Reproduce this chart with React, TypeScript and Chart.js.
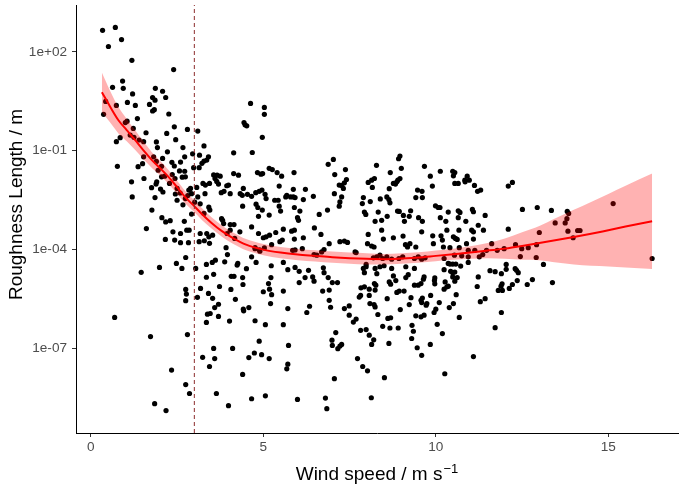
import React, { useEffect, useRef } from "react";
import { Chart, registerables } from "chart.js";

Chart.register(...registerables);

// ---------------- data ----------------
// Observations: wind speed (m/s) and log10 of roughness length (m)
const windSpeed: number[] = [
  0.34,0.51,0.71,0.89,1.19,2.40,0.63,0.92,0.94,0.43,
  0.74,1.06,1.21,1.29,1.87,2.08,2.17,1.70,1.79,1.86,
  1.84,1.79,2.26,0.37,1.05,1.00,1.35,1.23,2.42,2.80,
  3.10,1.14,1.25,1.40,1.60,1.53,0.85,0.74,1.90,1.93,
  2.20,2.46,2.67,3.28,0.77,1.37,1.53,1.50,1.82,1.90,
  2.08,2.22,2.35,2.60,2.72,2.95,2.98,2.42,1.18,1.20,
  1.54,1.76,1.86,2.05,2.05,2.14,1.95,1.91,1.89,2.02,
  2.09,2.28,2.36,2.44,2.50,2.45,2.59,2.65,2.74,2.72,
  2.57,2.84,2.89,2.92,3.07,3.25,3.10,3.14,3.15,3.22,
  3.28,3.36,3.41,3.32,3.31,3.44,3.56,3.60,3.66,3.75,
  3.65,3.70,3.78,3.86,3.94,3.99,4.04,4.14,4.14,4.28,
  4.33,4.39,4.54,4.44,4.47,4.52,4.63,1.77,1.61,2.06,
  2.16,2.38,2.43,2.50,2.67,2.74,2.81,2.60,2.78,2.30,
  2.17,2.71,2.85,2.92,3.01,3.28,3.17,3.42,3.45,3.82,
  3.79,3.85,4.04,4.15,4.04,3.95,4.17,4.32,3.17,3.36,
  3.53,3.42,3.29,3.14,2.83,2.60,3.92,
  1.46,1.99,2.48,2.64,2.75,2.75,2.77,2.75,0.69,1.73,
  2.80,2.34,2.75,2.86,1.85,2.18,3.99,3.64,3.44,3.24,
  3.59,3.56,4.11,4.40,4.58,3.09,3.18,3.04,3.35,3.52,
  3.61,3.88,3.96,3.56,3.35,3.73,3.41,3.53,3.70,3.59,
  3.38,3.46,3.35,3.70,4.02,4.06,4.07,4.15,4.19,4.24,
  4.26,4.40,4.41,4.42,4.43,4.51,4.58,3.44,
  5.03,5.03,4.97,4.68,4.83,4.93,4.98,5.17,5.26,5.40,
  5.53,4.42,4.66,4.78,4.88,4.96,5.05,5.08,4.40,4.79,
  4.84,4.97,4.86,5.17,5.33,5.43,5.46,5.46,5.50,5.65,
  5.68,5.79,5.87,5.89,5.87,5.92,5.90,6.06,5.99,6.02,
  6.16,6.22,6.45,6.62,6.86,6.88,7.03,7.07,7.38,7.20,
  7.27,7.35,7.41,7.32,7.06,7.27,7.22,7.20,7.90,7.87,
  7.93,7.97,8.10,8.04,8.14,8.22,8.16,8.28,8.39,8.33,
  8.24,8.43,8.58,8.64,8.67,8.59,8.68,8.65,8.77,8.83,
  8.87,8.90,8.96,8.92,8.96,9.00,8.89,8.94,9.06,9.09,
  9.23,9.27,9.42,9.47,9.60,9.61,9.50,9.61,9.67,9.84,
  9.90,10.13,9.99,10.07,10.13,10.29,10.36,
  4.66,4.86,5.00,5.08,5.18,5.36,5.48,5.55,5.58,5.82,
  5.90,5.90,6.16,6.48,6.67,6.91,7.22,7.35,7.44,8.04,
  8.02,8.14,8.21,8.48,8.43,8.77,9.05,9.12,9.18,9.25,
  9.42,9.59,9.91,9.93,10.15,10.19,10.32,4.76,4.89,5.03,
  5.24,4.66,4.79,5.23,5.22,5.15,5.18,5.24,5.00,5.21,
  5.58,5.71,5.92,6.04,6.13,5.85,5.92,6.31,6.21,6.43,
  6.47,6.04,5.58,5.71,4.76,5.06,5.58,4.88,4.74,4.95,
  5.17,5.73,5.71,5.68,4.66,5.06,5.99,6.34,6.26,6.72,
  6.74,6.76,6.88,7.00,7.15,6.91,6.91,6.95,7.10,6.99,
  7.00,7.16,7.22,7.27,7.35,7.49,7.49,7.61,7.69,6.80,
  6.84,7.06,7.73,7.88,8.02,8.13,7.90,7.93,7.98,7.83,
  7.93,8.07,7.78,7.82,8.07,8.22,8.26,8.24,8.09,8.21,
  8.24,8.32,8.20,8.14,7.82,7.98,8.07,8.24,8.29,8.38,
  8.50,8.59,8.46,8.61,8.69,8.67,8.64,8.51,8.72,8.77,
  8.84,8.69,8.65,8.87,8.94,9.08,8.91,8.97,9.13,9.20,
  9.28,9.23,9.38,9.38,9.31,9.35,9.30,9.46,9.59,9.42,
  9.57,9.66,9.57,9.61,9.59,9.49,9.57,9.66,9.64,9.72,
  9.74,9.85,9.95,10.00,9.97,9.96,9.97,9.84,10.04,10.10,
  10.19,10.26,10.24,10.32,10.27,10.24,10.36,10.22,9.38,9.49,
  9.59,9.69,9.13,9.04,8.93,8.72,8.58,8.46,8.38,8.29,
  8.19,7.98,7.66,7.69,6.69,6.76,6.55,6.47,4.76,4.90,
  10.49,10.55,10.51,10.55,10.65,10.84,10.91,10.97,10.85,11.12,
  11.21,11.30,12.10,12.22,10.12,10.65,10.70,11.06,11.09,11.43,
  10.65,10.87,12.51,12.94,13.35,13.81,13.85,13.80,15.14,13.46,13.75,
  11.23,11.38,10.67,11.04,11.09,12.10,10.51,10.57,10.62,11.09,
  10.89,10.41,10.68,10.94,11.13,10.54,10.75,10.94,11.26,11.36,
  10.41,10.49,10.58,10.72,10.94,11.47,11.62,11.78,11.98,12.31,
  12.49,12.68,12.92,13.00,12.45,12.91,13.12,13.83,13.98,14.11,
  14.18,16.27,10.55,10.49,10.43,10.24,10.36,10.49,10.62,10.55,
  10.59,10.39,10.51,10.68,11.23,11.20,11.29,11.43,11.57,11.72,
  11.90,12.04,12.04,12.30,12.34,12.39,12.36,11.92,11.89,11.81,
  11.93,12.13,12.22,12.65,12.80,13.38,11.90,11.72,11.09,
];

const roughnessLog10: number[] = [
  2.65,2.16,2.74,2.37,1.74,1.46,0.92,1.11,0.89,0.49,
  0.37,0.46,0.72,0.37,0.89,0.80,0.61,0.40,0.61,0.53,
  0.24,0.20,0.11,0.10,-0.11,-0.15,-0.03,-0.33,-0.28,-0.36,
  -0.41,-0.53,-0.60,-0.68,-0.46,-0.73,-0.61,-0.73,-0.74,-0.91,
  -0.48,-0.67,-0.91,-0.86,-1.48,-1.49,-1.19,-1.40,-1.19,-1.33,
  -1.24,-1.04,-1.36,-1.35,-1.19,-1.10,-1.52,-1.47,-1.95,-2.41,
  -1.85,-2.13,-2.43,-1.48,-1.80,-1.78,-1.60,-1.95,-2.02,-2.17,
  -2.26,-2.00,-1.73,-1.85,-2.15,-2.32,-2.29,-1.81,-1.80,-1.63,
  -1.62,-2.20,-2.15,-2.31,-2.12,-2.00,-2.41,-1.52,-1.14,-1.39,
  -1.32,-1.29,-1.19,-2.05,-2.31,-2.00,-1.74,-1.85,-1.75,-1.78,
  -1.94,-2.02,-2.28,-2.24,-2.07,-2.05,-2.31,-1.70,-1.07,-1.75,
  -2.31,-2.36,-2.33,-0.15,-0.22,-0.25,0.43,-2.81,-3.37,-3.04,
  -3.70,-3.47,-3.72,-2.51,-2.65,-2.46,-2.37,-3.52,-3.42,-3.13,
  -3.17,-3.15,-3.42,-2.93,-2.57,-2.91,-2.62,-2.72,-2.81,-3.12,
  -3.07,-3.22,-3.25,-3.25,-3.42,-3.52,-3.67,-3.47,-3.52,-3.52,
  -3.57,-3.62,-3.74,-3.77,-3.80,-3.80,-3.95,
  -4.70,-4.55,-4.43,-4.58,-4.25,-5.22,-5.36,-5.56,-6.07,-6.65,
  -6.59,-7.67,-8.11,-8.38,-8.69,-8.90,-8.75,-8.38,-7.56,-7.28,
  -7.32,-7.01,-7.01,-7.80,-7.29,-5.46,-5.19,-4.58,-4.46,-4.40,
  -4.33,-4.38,-4.16,-4.76,-4.85,-5.13,-5.34,-5.49,-5.67,-5.77,
  -5.97,-5.95,-6.22,-6.04,-6.18,-5.22,-4.82,-4.82,-5.52,-4.48,
  -4.43,-4.86,-5.07,-5.82,-5.87,-4.59,-5.77,-3.82,
  0.31,0.10,-0.60,-1.06,-1.67,-1.72,-1.70,-1.54,-1.58,-1.67,
  -1.78,-2.15,-2.39,-2.28,-2.24,-2.20,-2.33,-2.46,-2.69,-2.63,
  -2.73,-2.81,-3.00,-2.96,-2.51,-2.51,-2.08,-2.69,-2.84,-2.41,
  -2.36,-2.41,-2.41,-1.67,-2.18,-2.43,-2.73,-2.84,-3.04,-3.12,
  -2.49,-2.18,-2.39,-2.94,-2.81,-1.42,-1.27,-1.73,-1.58,-2.05,
  -2.06,-1.98,-1.88,-2.15,-2.31,-2.41,-2.56,-2.69,-2.43,-2.61,
  -2.87,-2.94,-2.55,-1.97,-1.90,-1.85,-2.12,-1.45,-2.47,-2.87,
  -3.15,-3.12,-2.41,-2.49,-2.59,-3.00,-1.67,-2.16,-2.00,-2.02,
  -1.95,-1.90,-1.85,-1.25,-1.17,-1.54,-2.84,-2.85,-2.97,-3.15,
  -3.00,-2.83,-2.43,-2.20,-2.24,-2.43,-3.04,-3.15,-1.48,-1.78,
  -2.08,-1.63,-2.68,-2.73,-3.04,-3.15,-2.87,
  -3.32,-3.52,-3.65,-3.62,-3.57,-3.49,-3.77,-3.72,-3.39,-3.45,
  -3.42,-3.69,-3.65,-3.35,-3.55,-3.83,-3.77,-3.75,-3.79,-3.55,
  -3.83,-3.90,-3.93,-3.69,-3.42,-3.65,-3.60,-3.86,-3.93,-3.83,
  -3.93,-3.47,-3.59,-3.83,-3.59,-3.72,-3.42,-3.98,-4.02,-3.96,
  -3.86,-4.23,-4.40,-4.50,-4.86,-5.04,-5.21,-5.38,-5.29,-5.65,
  -4.40,-4.62,-4.55,-4.67,-3.98,-4.03,-4.02,-4.64,-4.86,-4.84,
  -4.97,-5.01,-5.27,-5.80,-6.17,-6.29,-6.29,-6.79,-7.15,-7.20,
  -7.32,-6.92,-7.49,-7.63,-8.54,-8.45,-8.56,-5.73,-5.92,-5.27,
  -4.56,-4.71,-4.86,-5.01,-5.01,-5.24,-5.55,-5.76,-6.53,-6.76,
  -6.92,-7.02,-6.94,-6.89,-5.80,-5.72,-6.00,-6.21,-6.12,-8.52,
  -8.84,-7.93,-7.32,-7.56,-7.69,-8.51,-4.58,-4.71,-4.46,-5.17,
  -5.14,-5.21,-5.45,-5.40,-5.40,-5.04,-5.09,-5.24,-5.65,-5.68,
  -5.75,-5.98,-6.75,-6.89,-6.46,-6.44,-6.61,-4.58,-4.74,-4.53,
  -4.50,-5.50,-6.34,-6.10,-6.08,-6.39,-6.86,-7.90,-4.58,-4.81,
  -4.95,-5.06,-4.99,-5.31,-5.27,-5.27,-6.39,-5.83,-4.86,-4.77,
  -5.47,-5.68,-5.09,-4.58,-6.31,-6.49,-6.71,-6.99,-7.22,-6.02,
  -6.05,-6.00,-5.55,-5.48,-5.62,-5.09,-5.04,-4.84,-4.91,-5.70,
  -5.65,-5.40,-5.92,-5.82,-4.87,-4.95,-5.05,-6.89,-6.28,-5.62,
  -6.56,-7.78,-4.62,-5.14,-4.99,-4.28,-4.43,-3.93,-4.28,-4.23,
  -4.30,-4.26,-4.53,-4.23,-4.28,-4.30,-4.23,-4.28,-4.18,-4.23,
  -4.26,-4.53,-4.08,-4.10,-4.08,-4.01,-4.18,-4.16,-3.95,-4.06,
  -1.63,-1.67,-1.77,-2.00,-2.00,-1.90,-1.78,-1.90,-1.95,-2.06,
  -2.24,-2.20,-2.08,-1.97,-2.73,-2.83,-2.88,-2.79,-2.86,-2.97,
  -3.04,-3.15,-2.79,-2.73,-2.82,-2.85,-2.91,-3.07,-2.61,-3.20,-3.20,
  -3.27,-3.42,-3.42,-3.42,-3.47,-3.39,-3.62,-3.67,-3.70,-3.69,
  -3.83,-3.95,-3.95,-4.03,-4.03,-4.18,-4.20,-4.23,-4.23,-4.16,
  -4.45,-4.45,-4.45,-4.51,-4.40,-4.03,-3.83,-4.03,-3.98,-3.86,
  -3.98,-3.95,-3.86,-3.49,-4.22,-4.25,-4.46,-3.45,-3.65,-3.43,
  -3.43,-4.28,-4.69,-4.71,-4.67,-5.21,-5.12,-4.84,-4.86,-4.97,
  -5.38,-5.77,-5.65,-6.07,-4.84,-5.13,-5.59,-5.50,-4.65,-4.68,
  -4.74,-4.46,-4.61,-4.59,-4.64,-4.71,-4.95,-5.05,-5.12,-5.25,
  -5.25,-5.19,-5.07,-5.07,-4.92,-5.01,-5.92,-6.38,-7.26,
];

// Smoothed fit (loess) with confidence band, log10 of roughness length
const smoothSpeed: number[] = [
  0.32,0.56,0.80,1.04,1.28,1.52,1.77,2.01,2.25,2.49,
  2.73,2.97,3.21,3.50,3.80,4.12,4.50,5.00,5.50,6.00,
  6.50,7.00,7.50,8.00,8.50,9.00,9.50,10.00,10.50,11.00,
  11.50,12.00,12.50,13.00,13.50,14.00,14.50,15.00,15.50,16.27,
];
const smoothFitLog10: number[] = [
  0.77,0.33,-0.08,-0.38,-0.68,-0.99,-1.29,-1.54,-1.80,-2.10,
  -2.41,-2.66,-2.92,-3.20,-3.45,-3.66,-3.86,-4.01,-4.10,-4.16,
  -4.20,-4.24,-4.27,-4.29,-4.30,-4.28,-4.25,-4.20,-4.15,-4.10,
  -4.04,-3.98,-3.90,-3.81,-3.72,-3.63,-3.53,-3.42,-3.31,-3.15,
];
const smoothLowerLog10: number[] = [
  0.17,-0.15,-0.48,-0.72,-0.98,-1.26,-1.53,-1.76,-2.01,-2.30,
  -2.60,-2.84,-3.10,-3.37,-3.62,-3.83,-4.03,-4.18,-4.27,-4.33,
  -4.37,-4.41,-4.44,-4.46,-4.46,-4.44,-4.41,-4.36,-4.32,-4.29,
  -4.27,-4.29,-4.32,-4.33,-4.40,-4.46,-4.50,-4.52,-4.55,-4.60,
];
const smoothUpperLog10: number[] = [
  1.37,0.81,0.32,-0.04,-0.38,-0.72,-1.05,-1.32,-1.59,-1.90,
  -2.22,-2.48,-2.74,-3.03,-3.28,-3.49,-3.69,-3.84,-3.93,-3.99,
  -4.03,-4.07,-4.10,-4.12,-4.14,-4.12,-4.09,-4.04,-3.98,-3.91,
  -3.81,-3.67,-3.48,-3.29,-3.04,-2.80,-2.56,-2.32,-2.07,-1.70,
];

const cutoffSpeed = 3;
const xTicks = [0, 5, 10, 15];
const yTicks = [1e2, 1e-1, 1e-4, 1e-7];
const yTickLabels = ["1e+02", "1e-01", "1e-04", "1e-07"];
const xRange = [-0.43, 17.02];
const yRangeLog10 = [-9.58, 3.42];
const xTitle = "Wind speed / m s";
const xTitleSup = "\u22121";
const yTitle = "Roughness Length / m";

const FONT = '"Liberation Sans", Arial, Helvetica, sans-serif';

const axisTitlePlugin = {
  id: "axisTitles",
  afterDraw(chart: any) {
    const { ctx, chartArea } = chart;
    ctx.save();
    ctx.fillStyle = "#000000";
    const mainFont = `19px ${FONT}`;
    const supFont = `13px ${FONT}`;
    ctx.font = mainFont;
    const mainW = ctx.measureText(xTitle).width;
    ctx.font = supFont;
    const supW = ctx.measureText(xTitleSup).width;
    const cx = (chartArea.left + chartArea.right) / 2;
    const startX = cx - (mainW + 1 + supW) / 2;
    const baseY = chart.height - 10.5;
    ctx.textAlign = "left";
    ctx.textBaseline = "alphabetic";
    ctx.font = mainFont;
    ctx.fillText(xTitle, startX, baseY);
    ctx.font = supFont;
    ctx.fillText(xTitleSup, startX + mainW + 1, baseY - 6.5);

    ctx.translate(21.5, 204.5);
    ctx.rotate(-Math.PI / 2);
    ctx.textAlign = "center";
    ctx.font = mainFont;
    ctx.fillText(yTitle, 0, 0);
    ctx.restore();
  },
};

export default function App() {
  const canvasRef = useRef<HTMLCanvasElement | null>(null);

  useEffect(() => {
    const canvas = canvasRef.current;
    if (!canvas) return;
    const n = Math.min(windSpeed.length, roughnessLog10.length);
    const points = [];
    for (let i = 0; i < n; i++) {
      points.push({ x: windSpeed[i], y: Math.pow(10, roughnessLog10[i]) });
    }
    const fit = smoothSpeed.map((x, i) => ({ x, y: Math.pow(10, smoothFitLog10[i]) }));
    const lower = smoothSpeed.map((x, i) => ({ x, y: Math.pow(10, smoothLowerLog10[i]) }));
    const upper = smoothSpeed.map((x, i) => ({ x, y: Math.pow(10, smoothUpperLog10[i]) }));
    const yMin = Math.pow(10, yRangeLog10[0]);
    const yMax = Math.pow(10, yRangeLog10[1]);

    const chart = new Chart(canvas, {
      type: "scatter",
      data: {
        datasets: [
          {
            type: "scatter",
            data: points,
            pointRadius: 2.6,
            pointBackgroundColor: "#000000",
            pointBorderWidth: 0,
            order: 5,
          } as any,
          {
            type: "line",
            data: lower,
            borderWidth: 0,
            pointRadius: 0,
            fill: false,
            cubicInterpolationMode: "monotone",
            order: 4,
          } as any,
          {
            type: "line",
            data: upper,
            borderWidth: 0,
            pointRadius: 0,
            fill: "-1",
            backgroundColor: "rgba(255,0,0,0.3)",
            cubicInterpolationMode: "monotone",
            order: 3,
          } as any,
          {
            type: "line",
            data: fit,
            borderColor: "#ff0000",
            borderWidth: 2,
            pointRadius: 0,
            fill: false,
            cubicInterpolationMode: "monotone",
            order: 2,
          } as any,
          {
            type: "line",
            data: [
              { x: cutoffSpeed, y: yMin },
              { x: cutoffSpeed, y: yMax },
            ],
            borderColor: "rgb(140,45,45)",
            borderWidth: 1,
            borderDash: [4, 3],
            pointRadius: 0,
            fill: false,
            order: 1,
          } as any,
        ],
      },
      options: {
        responsive: false,
        animation: false,
        devicePixelRatio: 1,
        layout: { padding: { left: 0, right: 7, top: 5, bottom: 0 } },
        plugins: {
          legend: { display: false },
          tooltip: { enabled: false },
        },
        scales: {
          x: {
            type: "linear",
            min: xRange[0],
            max: xRange[1],
            afterBuildTicks: (s: any) => {
              s.ticks = xTicks.map((v) => ({ value: v }));
            },
            afterFit: (s: any) => {
              s.height = 57;
              s.paddingLeft = 0;
              s.paddingRight = 0;
            },
            ticks: {
              font: { family: FONT, size: 13.6 },
              color: "#4d4d4d",
              padding: 2,
              maxRotation: 0,
              autoSkip: false,
              callback: (v: any) => String(v),
            },
            grid: {
              drawOnChartArea: false,
              drawTicks: true,
              tickLength: 4,
              tickColor: "#333333",
              tickWidth: 1,
            },
            border: { display: true, color: "#000000", width: 1 },
          },
          y: {
            type: "logarithmic",
            min: yMin,
            max: yMax,
            afterBuildTicks: (s: any) => {
              s.ticks = yTicks.map((v) => ({ value: v }));
            },
            afterFit: (s: any) => {
              s.width = 76;
              s.paddingTop = 0;
              s.paddingBottom = 0;
            },
            ticks: {
              font: { family: FONT, size: 13.6 },
              color: "#4d4d4d",
              padding: 5,
              autoSkip: false,
              callback: (_v: any, i: number) => yTickLabels[i],
            },
            grid: {
              drawOnChartArea: false,
              drawTicks: true,
              tickLength: 4,
              tickColor: "#333333",
              tickWidth: 1,
            },
            border: { display: true, color: "#000000", width: 1 },
          },
        },
      } as any,
      plugins: [axisTitlePlugin],
    });

    return () => {
      chart.destroy();
    };
  }, []);

  return (
    <div style={{ position: "absolute", left: 0, top: 0, width: 685, height: 490, background: "#ffffff" }}>
      <canvas ref={canvasRef} width={685} height={490} style={{ display: "block" }} />
    </div>
  );
}
